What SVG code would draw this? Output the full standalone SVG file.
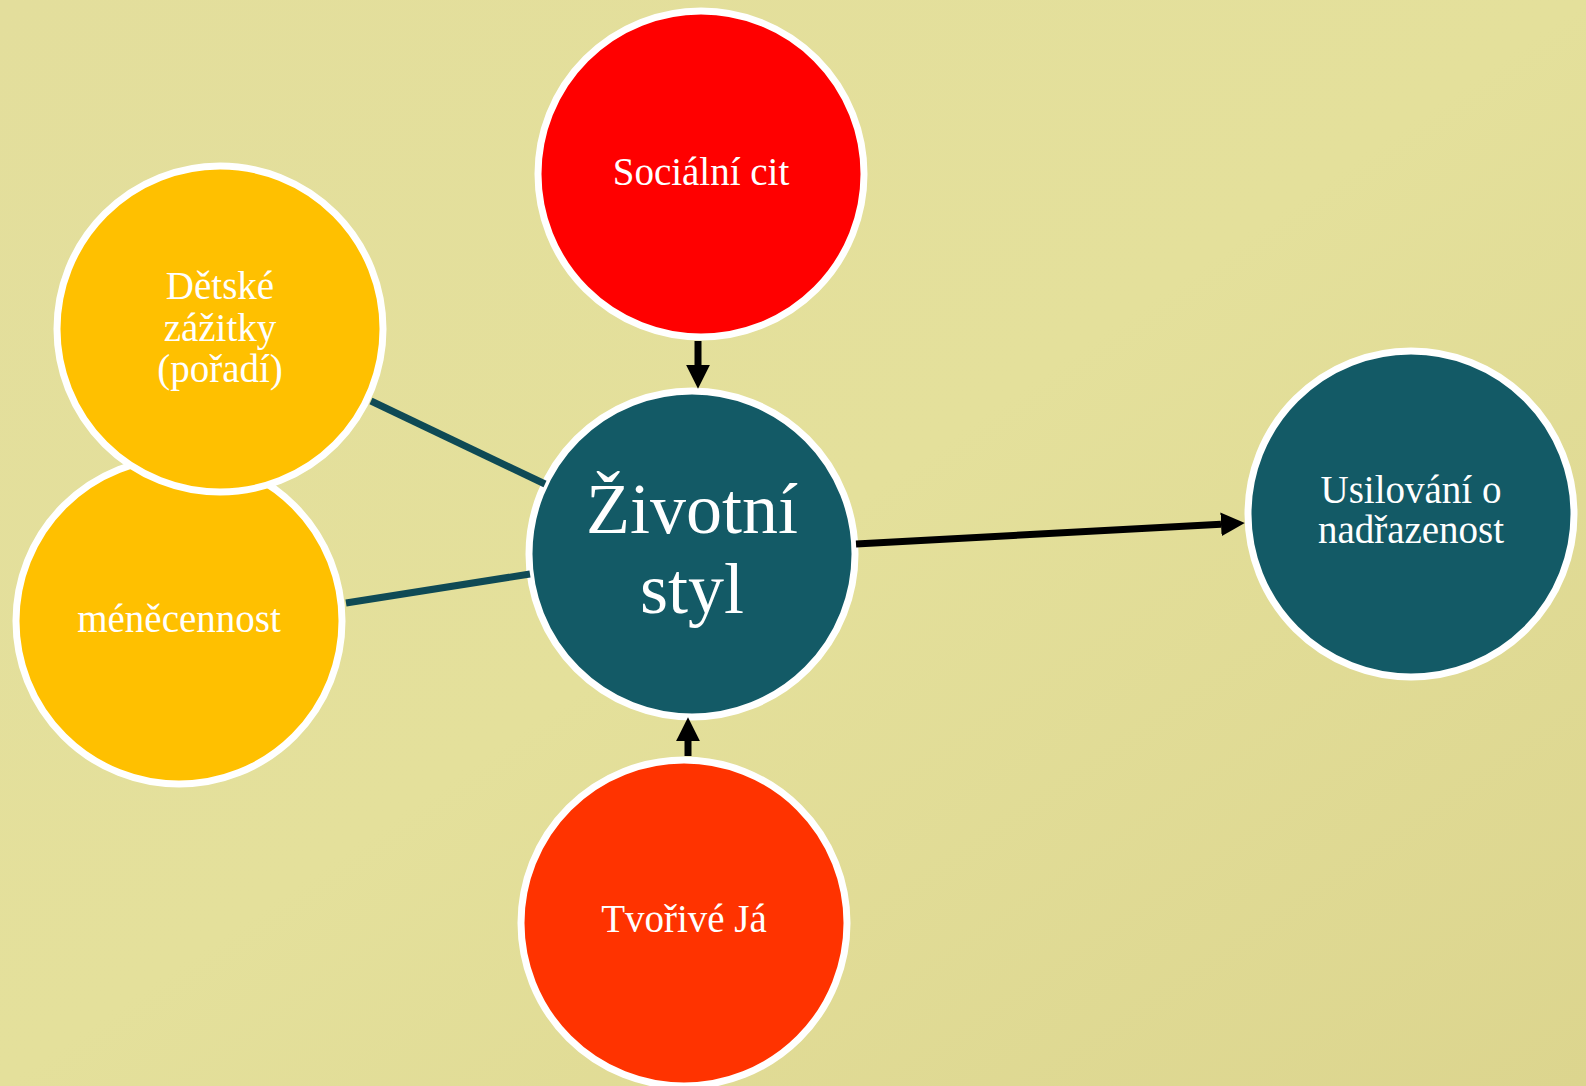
<svg xmlns="http://www.w3.org/2000/svg" width="1586" height="1086" viewBox="0 0 1586 1086">
  <defs>
    <linearGradient id="bg" x1="0" y1="0" x2="1" y2="1">
      <stop offset="0" stop-color="#E3DE9C"/>
      <stop offset="0.5" stop-color="#E4E09B"/>
      <stop offset="1" stop-color="#DCD58E"/>
    </linearGradient>
    <marker id="ah" viewBox="0 0 10 10" refX="0" refY="5" markerWidth="3.4" markerHeight="3.4" markerUnits="strokeWidth" orient="auto">
      <path d="M0,0 L10,5 L0,10 Z" fill="#000"/>
    </marker>
    <style>
      .node { stroke: #FFFFFF; stroke-width: 7; }
      .yellow { fill: #FFC000; }
      .red { fill: #FF0000; }
      .orange { fill: #FF3300; }
      .teal { fill: #135A66; }
      .lbl { font-family: "Liberation Serif", "Times New Roman", serif; fill: #FFFFFF; text-anchor: middle; font-size: 39px; }
      .big { font-size: 72px; }
      .link { stroke: #0F4A55; stroke-width: 7; fill: none; }
      .arrow { stroke: #000; stroke-width: 7; fill: none; marker-end: url(#ah); }
    </style>
  </defs>
  <rect x="0" y="0" width="1586" height="1086" fill="url(#bg)"/>

  <g id="node-menecennost">
    <circle class="node yellow" cx="179" cy="621" r="163"/>
    <text class="lbl" x="179" y="632" font-size="40">méněcennost</text>
  </g>
  <g id="node-detske">
    <circle class="node yellow" cx="220" cy="329" r="163"/>
    <text class="lbl" x="220" y="299">Dětské</text>
    <text class="lbl" x="220" y="341">zážitky</text>
    <text class="lbl" x="220" y="382">(pořadí)</text>
  </g>
  <g id="node-socialni">
    <circle class="node red" cx="701" cy="174" r="163"/>
    <text class="lbl" x="701" y="185">Sociální cit</text>
  </g>
  <g id="node-zivotni">
    <circle class="node teal" cx="692" cy="554" r="163"/>
    <text class="lbl big" x="692" y="533">Životní</text>
    <text class="lbl big" x="692" y="613">styl</text>
  </g>
  <g id="node-usilovani">
    <circle class="node teal" cx="1411" cy="514" r="163"/>
    <text class="lbl" x="1411" y="503">Usilování o</text>
    <text class="lbl" x="1411" y="543">nadřazenost</text>
  </g>
  <g id="node-tvorive">
    <circle class="node orange" cx="684" cy="923" r="163"/>
    <text class="lbl" x="684" y="932">Tvořivé Já</text>
  </g>

  <g id="connectors">
    <line class="link" x1="371" y1="401" x2="545" y2="484"/>
    <line class="link" x1="346" y1="603" x2="530" y2="574"/>
    <line class="arrow" x1="698" y1="341" x2="698" y2="365"/>
    <line class="arrow" x1="688" y1="756" x2="688" y2="741"/>
    <line class="arrow" x1="856" y1="544" x2="1221" y2="524.3"/>
  </g>
</svg>
